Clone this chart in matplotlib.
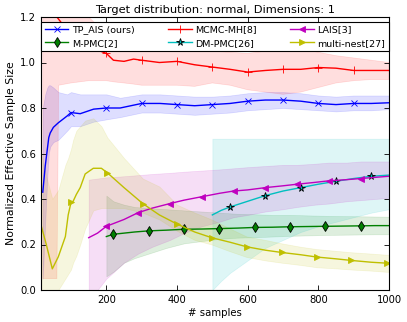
import numpy as np
import matplotlib
matplotlib.use("Agg")
import matplotlib.pyplot as plt

# TP_AIS (ours)
tp_x = [20, 27, 33, 37, 41, 50, 64, 89, 100, 126, 164, 200, 239, 300, 352, 400, 450, 500, 550,
        600, 650, 700, 750, 800, 850, 900, 950, 1000]
tp_y = [0.43, 0.545, 0.62, 0.67, 0.69, 0.715, 0.735, 0.765, 0.78, 0.775, 0.795, 0.80, 0.80, 0.82,
        0.82, 0.815, 0.81, 0.815, 0.82, 0.83, 0.835, 0.835, 0.83, 0.82, 0.815, 0.82, 0.82, 0.823]
tp_lo = [0.05, 0.3, 0.5, 0.6, 0.63, 0.65, 0.66, 0.70, 0.72, 0.72, 0.74, 0.75, 0.76, 0.78, 0.78,
         0.775, 0.77, 0.775, 0.78, 0.79, 0.795, 0.80, 0.795, 0.79, 0.785, 0.79, 0.79, 0.795]
tp_hi = [0.80, 0.86, 0.89, 0.90, 0.90, 0.89, 0.87, 0.86, 0.87, 0.86, 0.86, 0.86, 0.845, 0.86, 0.86,
         0.855, 0.85, 0.85, 0.855, 0.865, 0.87, 0.87, 0.865, 0.855, 0.85, 0.855, 0.855, 0.855]
tp_marks = [100, 200, 300, 400, 500, 600, 700, 800, 900]

# MCMC-MH[8]
mh_x = [20, 40, 60, 65, 100, 150, 183, 200, 220, 250, 277, 300, 350, 400, 450, 500, 550, 600,
        650, 700, 750, 800, 850, 900, 950, 1000]
mh_y = [1.5, 1.3, 1.2, 1.19, 1.12, 1.07, 1.05, 1.04, 1.01, 1.005, 1.015, 1.01, 1.0, 1.005, 0.99,
        0.98, 0.97, 0.958, 0.965, 0.97, 0.97, 0.978, 0.975, 0.965, 0.965, 0.965]
mh_lo = [0.05, 0.05, 0.05, 0.90, 0.91, 0.92, 0.92, 0.92, 0.915, 0.91, 0.905, 0.90, 0.90, 0.90,
         0.895, 0.91, 0.90, 0.88, 0.87, 0.86, 0.87, 0.89, 0.91, 0.92, 0.925, 0.925]
mh_hi = [1.5, 1.5, 1.5, 1.4, 1.3, 1.2, 1.15, 1.12, 1.1, 1.08, 1.07, 1.06, 1.06, 1.055, 1.05,
         1.05, 1.045, 1.04, 1.05, 1.07, 1.06, 1.045, 1.03, 1.02, 1.01, 1.0]
mh_marks = [100, 200, 300, 400, 500, 600, 700, 800, 900]

# LAIS[3]
la_x = [150, 175, 200, 250, 290, 330, 380, 420, 470, 520, 560, 600, 650, 700, 740, 790, 830,
        880, 920, 960, 1000]
la_y = [0.23, 0.25, 0.28, 0.31, 0.34, 0.36, 0.38, 0.395, 0.41, 0.425, 0.435, 0.44, 0.45, 0.458,
        0.465, 0.473, 0.48, 0.485, 0.49, 0.495, 0.50]
la_lo = [0.0, 0.0, 0.05, 0.12, 0.16, 0.19, 0.22, 0.25, 0.28, 0.30, 0.32, 0.33, 0.345, 0.355,
         0.365, 0.375, 0.38, 0.39, 0.395, 0.40, 0.405]
la_hi = [0.485, 0.49, 0.495, 0.50, 0.505, 0.51, 0.515, 0.52, 0.525, 0.53, 0.535, 0.54, 0.545,
         0.55, 0.55, 0.555, 0.56, 0.56, 0.565, 0.565, 0.565]
la_marks = [200, 290, 380, 470, 560, 650, 740, 830, 920]

# M-PMC[2]
mp_x = [200, 220, 250, 280, 320, 370, 420, 470, 520, 570, 620, 670, 720, 770, 820, 870, 920,
        960, 1000]
mp_y = [0.235, 0.245, 0.25, 0.255, 0.26, 0.263, 0.267, 0.268, 0.27, 0.272, 0.275, 0.276, 0.278,
        0.279, 0.28, 0.281, 0.282, 0.283, 0.283]
mp_lo = [0.06, 0.08, 0.12, 0.14, 0.16, 0.185, 0.205, 0.215, 0.225, 0.23, 0.232, 0.235, 0.238,
         0.24, 0.242, 0.243, 0.244, 0.245, 0.245]
mp_hi = [0.415, 0.39, 0.375, 0.365, 0.36, 0.355, 0.35, 0.345, 0.34, 0.335, 0.333, 0.33, 0.33,
         0.328, 0.326, 0.325, 0.324, 0.323, 0.322]
mp_marks = [220, 320, 420, 520, 620, 720, 820, 920]

# DM-PMC[26]
dm_x = [500, 525, 550, 600, 650, 700, 750, 800, 850, 900, 950, 1000]
dm_y = [0.33, 0.35, 0.365, 0.39, 0.415, 0.435, 0.45, 0.465, 0.478, 0.49, 0.50, 0.505]
dm_lo = [0.0, 0.04, 0.075, 0.13, 0.185, 0.22, 0.255, 0.28, 0.30, 0.32, 0.34, 0.355]
dm_hi = [0.665, 0.665, 0.665, 0.665, 0.665, 0.665, 0.665, 0.665, 0.665, 0.665, 0.665, 0.665]
dm_marks = [550, 650, 750, 850, 950]

# multi-nest[27]
mn_x = [16, 30, 47, 64, 84, 92, 100, 106, 115, 126, 140, 163, 186, 203, 250, 303, 350, 400, 450,
        498, 550, 597, 650, 696, 750, 795, 850, 893, 950, 993, 1000]
mn_y = [0.28, 0.20, 0.093, 0.146, 0.235, 0.33, 0.385, 0.39, 0.42, 0.45, 0.51, 0.535, 0.535, 0.515,
        0.45, 0.38, 0.33, 0.29, 0.255, 0.23, 0.21, 0.19, 0.175, 0.165, 0.155, 0.145, 0.137, 0.13,
        0.122, 0.118, 0.117]
mn_lo = [0.0, 0.0, 0.0, 0.0, 0.05, 0.07, 0.09, 0.12, 0.15, 0.2, 0.27, 0.35, 0.36, 0.36, 0.36,
         0.34, 0.31, 0.26, 0.22, 0.2, 0.17, 0.145, 0.13, 0.12, 0.11, 0.1, 0.095, 0.09, 0.085, 0.08,
         0.08]
mn_hi = [0.60, 0.50, 0.40, 0.44, 0.55, 0.58, 0.62, 0.66, 0.70, 0.72, 0.745, 0.755, 0.72, 0.67,
         0.58, 0.49, 0.455, 0.375, 0.34, 0.31, 0.27, 0.235, 0.22, 0.205, 0.19, 0.18, 0.172, 0.166,
         0.16, 0.155, 0.155]
mn_marks = [100, 203, 303, 400, 498, 597, 696, 795, 893, 993]


def idx(xs, marks):
    return [i for i, v in enumerate(xs) if v in marks]


plt.rcParams['font.family'] = 'DejaVu Sans'
plt.rcParams['xtick.direction'] = 'in'
plt.rcParams['ytick.direction'] = 'in'
plt.rcParams['xtick.top'] = True
plt.rcParams['ytick.right'] = True

fig = plt.figure(figsize=(4.07, 3.22), dpi=100)
ax = fig.add_axes([41 / 407, 1 - 290 / 322, 348 / 407, 273 / 322])

series = [
    ("TP_AIS (ours)", tp_x, tp_y, tp_lo, tp_hi, tp_marks, 'b', 'x', 'b', 4.5),
    ("M-PMC[2]", mp_x, mp_y, mp_lo, mp_hi, mp_marks, 'g', 'd', 'k', 5.5),
    ("MCMC-MH[8]", mh_x, mh_y, mh_lo, mh_hi, mh_marks, 'r', '+', 'r', 5.5),
    ("DM-PMC[26]", dm_x, dm_y, dm_lo, dm_hi, dm_marks, 'c', '*', 'k', 5.5),
    ("LAIS[3]", la_x, la_y, la_lo, la_hi, la_marks, 'm', '<', 'm', 4.5),
    ("multi-nest[27]", mn_x, mn_y, mn_lo, mn_hi, mn_marks, 'y', '>', 'y', 4.5),
]

for name, xs, ys, lo, hi, marks, col, mk, mec, ms in series:
    ax.fill_between(xs, lo, hi, color=col, alpha=0.13, lw=0.5)
    ax.plot(xs, ys, color=col, lw=1.0, marker=mk, markevery=idx(xs, marks),
            ms=ms, mec=mec, mew=0.6, label=name)

ax.set_xlim(15, 1000)
ax.set_ylim(0, 1.2)
ax.set_xticks([200, 400, 600, 800, 1000])
ax.set_yticks([0.0, 0.2, 0.4, 0.6, 0.8, 1.0, 1.2])
ax.tick_params(labelsize=7.2, length=3.5, width=0.6)
for s in ax.spines.values():
    s.set_linewidth(0.8)

ax.set_title("Target distribution: normal, Dimensions: 1", fontsize=8.2, pad=3)
ax.set_xlabel("# samples", fontsize=7.3, labelpad=2)
ax.set_ylabel("Normalized Effective Sample Size", fontsize=7.8, labelpad=3)

leg = ax.legend(loc='upper center', ncol=3, fontsize=6.8, fancybox=False, framealpha=1,
                edgecolor='k', borderaxespad=0.5, handlelength=2.5, handletextpad=0.4,
                columnspacing=3.5, labelspacing=0.5, borderpad=0.35)
leg.get_frame().set_linewidth(0.8)

fig.savefig("out.png", dpi=100)
